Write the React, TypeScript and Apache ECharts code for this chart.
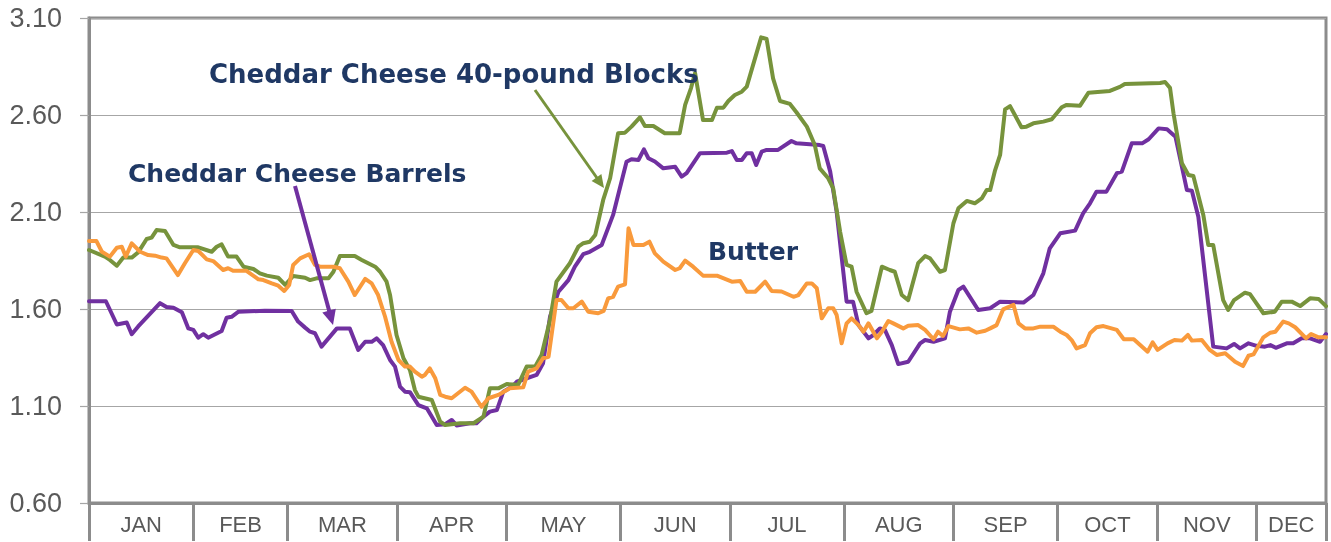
import React, { useEffect, useRef } from "react";
import * as echarts from "echarts";

// Month names and month boundaries on the trading-day axis
const MONTHS = ["JAN", "FEB", "MAR", "APR", "MAY", "JUN", "JUL", "AUG", "SEP", "OCT", "NOV", "DEC"];
const MONTH_BOUNDS = [0, 21, 40, 62, 84, 107, 129, 152, 174, 195, 215, 235, 249];
const Y_TICKS = [0.6, 1.1, 1.6, 2.1, 2.6, 3.1];

// [trading day, $/lb]
const barrels: [number, number][] = [
  [0, 1.64], [3.4, 1.64], [5.6, 1.52], [7.6, 1.53], [8.6, 1.47], [9.9, 1.51], [14.3, 1.63], [15.6, 1.61],
  [17.0, 1.607], [18.7, 1.583], [20.0, 1.5], [21.0, 1.492], [22.0, 1.452], [23.0, 1.47], [24.0, 1.452],
  [26.7, 1.487], [27.7, 1.555], [28.7, 1.56], [30.1, 1.586], [35.4, 1.591], [40.8, 1.59], [42.1, 1.535],
  [43.5, 1.504], [44.5, 1.483], [45.5, 1.475], [46.8, 1.406], [49.9, 1.5], [52.5, 1.5], [54.2, 1.389],
  [55.6, 1.431], [56.9, 1.431], [57.9, 1.449], [59.2, 1.414], [60.6, 1.337], [61.6, 1.303], [62.6, 1.2],
  [63.6, 1.174], [64.6, 1.171], [66.3, 1.105], [68.0, 1.088], [70.0, 1.002], [71.7, 1.006], [73.0, 1.028],
  [74.0, 1.0], [76.7, 1.011], [78.0, 1.011], [79.4, 1.045], [80.7, 1.071], [82.1, 1.079], [83.4, 1.174],
  [85.2, 1.2], [86.1, 1.225], [88.1, 1.243], [90.1, 1.26], [91.4, 1.32], [92.8, 1.56], [94.5, 1.689],
  [96.5, 1.749], [97.8, 1.818], [99.5, 1.883], [100.8, 1.895], [103.2, 1.93], [105.5, 2.085], [108.2, 2.359],
  [109.2, 2.372], [110.6, 2.368], [111.7, 2.423], [112.6, 2.377], [113.9, 2.36], [115.6, 2.325], [118.0, 2.333],
  [119.3, 2.282], [120.3, 2.3], [123.0, 2.403], [128.4, 2.406], [129.4, 2.414], [130.4, 2.368], [131.4, 2.368],
  [132.4, 2.403], [133.4, 2.403], [134.3, 2.342], [135.4, 2.411], [136.4, 2.42], [138.7, 2.42], [141.4, 2.466],
  [142.4, 2.454], [147.1, 2.445], [147.8, 2.44], [149.2, 2.308], [150.5, 2.1], [152.5, 1.638], [153.8, 1.638],
  [154.9, 1.517], [156.9, 1.449], [157.9, 1.466], [159.2, 1.5], [160.2, 1.492], [161.6, 1.414], [162.9, 1.316],
  [164.9, 1.328], [167.3, 1.423], [168.3, 1.44], [170.0, 1.431], [172.3, 1.449], [173.3, 1.586], [175.0, 1.698],
  [176.0, 1.715], [179.0, 1.595], [181.4, 1.604], [183.4, 1.638], [188.1, 1.633], [190.1, 1.672], [192.1, 1.784],
  [193.4, 1.913], [195.5, 1.99], [198.5, 2.004], [200.1, 2.093], [201.5, 2.145], [202.8, 2.205], [204.8, 2.205],
  [206.9, 2.3], [207.9, 2.308], [209.9, 2.454], [212.0, 2.454], [213.3, 2.475], [215.3, 2.531], [217.0, 2.526],
  [218.7, 2.488], [220.0, 2.333], [221.0, 2.213], [222.0, 2.21], [223.3, 2.076], [224.6, 1.784], [226.3, 1.406],
  [229.0, 1.397], [230.5, 1.42], [231.7, 1.397], [233.4, 1.423], [235.0, 1.41], [236.7, 1.406], [237.8, 1.414],
  [238.9, 1.4], [241.1, 1.423], [242.4, 1.423], [244.1, 1.449], [245.8, 1.449], [247.8, 1.431], [249.0, 1.471],
];

const blocks: [number, number][] = [
  [0, 1.904], [3.2, 1.87], [4.2, 1.853], [5.6, 1.823], [6.9, 1.865], [8.6, 1.865], [9.9, 1.892], [11.6, 1.961],
  [12.6, 1.968], [13.6, 2.007], [15.3, 2.002], [17.0, 1.93], [18.3, 1.918], [22.0, 1.918], [24.7, 1.895],
  [25.7, 1.921], [26.7, 1.933], [28.0, 1.87], [29.7, 1.87], [31.1, 1.818], [33.1, 1.806], [34.4, 1.784],
  [35.8, 1.772], [38.1, 1.761], [39.5, 1.724], [41.1, 1.77], [43.5, 1.761], [44.5, 1.749], [45.8, 1.758],
  [48.2, 1.758], [49.2, 1.792], [50.5, 1.873], [53.5, 1.873], [54.9, 1.853], [56.2, 1.836], [57.6, 1.818],
  [58.6, 1.792], [59.9, 1.741], [60.6, 1.672], [61.9, 1.466], [63.3, 1.346], [64.6, 1.286], [65.6, 1.182],
  [66.3, 1.148], [69.0, 1.131], [70.7, 1.019], [71.7, 1.002], [74.7, 1.011], [77.4, 1.011], [79.4, 1.045],
  [80.7, 1.191], [82.4, 1.191], [84.1, 1.213], [86.4, 1.21], [88.1, 1.303], [89.8, 1.303], [91.1, 1.363],
  [92.8, 1.543], [94.1, 1.741], [96.8, 1.836], [98.5, 1.921], [99.5, 1.939], [100.8, 1.947], [101.9, 1.981],
  [103.5, 2.162], [104.9, 2.274], [106.5, 2.506], [107.9, 2.509], [109.2, 2.54], [110.9, 2.588], [111.9, 2.543],
  [113.6, 2.543], [115.9, 2.506], [118.9, 2.506], [120.0, 2.652], [121.2, 2.74], [122.0, 2.816], [123.6, 2.574],
  [125.4, 2.574], [126.4, 2.638], [127.7, 2.638], [128.7, 2.672], [130.0, 2.703], [131.4, 2.72], [132.4, 2.746],
  [135.3, 3.0], [136.4, 2.992], [137.7, 2.789], [139.1, 2.672], [141.1, 2.657], [142.4, 2.614], [144.5, 2.54],
  [146.1, 2.445], [147.1, 2.325], [148.8, 2.274], [149.8, 2.222], [151.2, 1.998], [152.5, 1.827], [153.5, 1.818],
  [154.5, 1.689], [156.5, 1.578], [157.5, 1.59], [159.6, 1.818], [161.2, 1.801], [162.2, 1.792], [163.6, 1.672],
  [164.9, 1.646], [166.9, 1.836], [168.3, 1.873], [169.3, 1.861], [171.3, 1.792], [172.3, 1.801], [174.0, 2.042],
  [175.0, 2.119], [176.7, 2.157], [178.3, 2.145], [179.7, 2.17], [180.7, 2.213], [181.4, 2.213], [182.4, 2.316],
  [183.4, 2.394], [184.4, 2.629], [185.4, 2.646], [187.7, 2.537], [188.7, 2.54], [190.1, 2.557], [192.1, 2.566],
  [193.8, 2.578], [195.8, 2.64], [196.8, 2.652], [199.5, 2.648], [201.2, 2.715], [205.5, 2.724], [207.5, 2.745],
  [208.5, 2.76], [215.6, 2.765], [216.6, 2.77], [217.6, 2.74], [218.3, 2.609], [220.0, 2.351], [221.3, 2.291],
  [222.3, 2.286], [224.3, 2.085], [225.3, 1.93], [226.3, 1.93], [228.3, 1.646], [229.3, 1.595], [230.5, 1.646],
  [232.7, 1.684], [233.7, 1.677], [235.0, 1.629], [236.4, 1.578], [238.7, 1.586], [240.1, 1.638], [242.1, 1.638],
  [243.8, 1.615], [245.8, 1.655], [247.5, 1.652], [249.0, 1.615],
];

const butter: [number, number][] = [
  [0, 1.95], [1.5, 1.95], [2.6, 1.895], [4.2, 1.87], [5.6, 1.916], [6.6, 1.921], [7.4, 1.87], [8.6, 1.938],
  [10.3, 1.895], [11.9, 1.878], [13.3, 1.875], [14.6, 1.865], [15.6, 1.861], [17.9, 1.775], [19.3, 1.836],
  [21.0, 1.904], [22.0, 1.899], [23.7, 1.856], [25.0, 1.847], [27.0, 1.801], [28.0, 1.81], [29.0, 1.797],
  [31.7, 1.797], [34.1, 1.753], [35.1, 1.749], [36.8, 1.732], [38.1, 1.72], [39.3, 1.693], [40.3, 1.724],
  [41.1, 1.827], [42.5, 1.861], [44.3, 1.882], [45.5, 1.827], [46.5, 1.818], [49.2, 1.818], [50.5, 1.81],
  [52.2, 1.741], [53.5, 1.672], [55.6, 1.755], [56.9, 1.732], [58.2, 1.672], [59.6, 1.56], [60.9, 1.431],
  [62.3, 1.337], [63.6, 1.303], [64.6, 1.303], [65.6, 1.277], [67.0, 1.251], [67.6, 1.26], [68.6, 1.294],
  [69.7, 1.243], [70.7, 1.157], [71.7, 1.148], [73.0, 1.14], [75.7, 1.194], [77.0, 1.174], [79.0, 1.096],
  [80.4, 1.14], [82.4, 1.157], [84.7, 1.191], [87.4, 1.196], [88.4, 1.277], [90.1, 1.294], [91.4, 1.346],
  [92.5, 1.354], [94.1, 1.646], [95.1, 1.646], [96.5, 1.604], [97.5, 1.604], [99.2, 1.638], [100.5, 1.586],
  [102.5, 1.578], [103.6, 1.59], [104.5, 1.655], [105.5, 1.663], [106.5, 1.715], [107.9, 1.727], [108.6, 2.016],
  [109.6, 1.93], [111.6, 1.93], [112.8, 1.947], [113.9, 1.887], [115.6, 1.844], [118.0, 1.801], [118.9, 1.81],
  [120.0, 1.849], [121.6, 1.818], [123.6, 1.772], [126.4, 1.772], [129.4, 1.741], [131.1, 1.744], [132.4, 1.689],
  [134.1, 1.689], [136.1, 1.741], [137.4, 1.693], [139.4, 1.69], [141.8, 1.663], [142.8, 1.672], [144.5, 1.732],
  [145.5, 1.732], [146.5, 1.707], [147.5, 1.552], [148.8, 1.604], [149.8, 1.604], [150.5, 1.569], [151.5, 1.423],
  [152.5, 1.526], [153.5, 1.552], [154.9, 1.517], [155.9, 1.483], [156.9, 1.526], [158.6, 1.449], [159.6, 1.483],
  [160.9, 1.538], [161.9, 1.526], [163.9, 1.5], [164.9, 1.514], [166.9, 1.517], [168.3, 1.492], [170.0, 1.444],
  [170.9, 1.483], [171.9, 1.461], [173.0, 1.512], [175.3, 1.495], [177.0, 1.5], [178.7, 1.478], [180.4, 1.488],
  [181.4, 1.5], [182.7, 1.517], [184.0, 1.598], [186.1, 1.621], [187.1, 1.526], [188.4, 1.5], [190.1, 1.5],
  [191.5, 1.509], [194.1, 1.509], [195.5, 1.483], [196.8, 1.466], [197.8, 1.44], [198.8, 1.397], [200.5, 1.414],
  [201.5, 1.475], [202.8, 1.506], [204.2, 1.512], [206.9, 1.492], [208.3, 1.444], [210.3, 1.444], [213.1, 1.38],
  [214.1, 1.428], [215.1, 1.389], [217.1, 1.423], [218.5, 1.44], [220.0, 1.437], [221.2, 1.466], [222.0, 1.437],
  [224.0, 1.44], [225.6, 1.389], [227.0, 1.363], [228.7, 1.372], [230.7, 1.328], [232.3, 1.306], [233.4, 1.359],
  [234.4, 1.366], [236.4, 1.454], [237.8, 1.478], [238.8, 1.483], [240.4, 1.535], [241.5, 1.526], [242.8, 1.506],
  [245.0, 1.449], [246.0, 1.471], [247.5, 1.454], [249.0, 1.454],
];

const AXIS_GRAY = "#8c8c8c";
const GRID_GRAY = "#a6a6a6";
const LABEL_GRAY = "#595959";
const NAVY = "#1f3864";
const PURPLE = "#7030a0";
const GREEN = "#77933c";
const ORANGE = "#f99a3c";

export default function App() {
  const ref = useRef<HTMLDivElement>(null);

  useEffect(() => {
    if (!ref.current) return;
    const chart = echarts.init(ref.current, null, { renderer: "svg" });
    const mids = MONTHS.map((_, i) => (MONTH_BOUNDS[i] + MONTH_BOUNDS[i + 1]) / 2);
    const monthFor = (v: number) => {
      let best = 0;
      for (let i = 1; i < mids.length; i++) {
        if (Math.abs(mids[i] - v) < Math.abs(mids[best] - v)) best = i;
      }
      return MONTHS[best];
    };
    const lineSeries = (name: string, data: [number, number][], color: string, width: number) => ({
      type: "line",
      name,
      data,
      symbol: "none",
      smooth: false,
      lineStyle: { color, width, join: "round", cap: "round" },
      itemStyle: { color },
    });

    chart.setOption({
      animation: false,
      grid: {
        left: 89,
        right: 5,
        top: 18,
        bottom: 39,
        show: true,
        borderColor: AXIS_GRAY,
        borderWidth: 3,
        backgroundColor: "transparent",
      },
      xAxis: {
        type: "value",
        min: 0,
        max: 249,
        axisLine: { show: true, lineStyle: { color: AXIS_GRAY, width: 3 } },
        axisTick: {
          show: true,
          customValues: MONTH_BOUNDS,
          length: 38,
          lineStyle: { color: AXIS_GRAY, width: 3 },
        },
        axisLabel: {
          customValues: mids,
          formatter: (v: number) => monthFor(v),
          color: LABEL_GRAY,
          fontSize: 22,
          fontFamily: "Liberation Sans",
          margin: 10,
        },
        splitLine: { show: false },
      },
      yAxis: {
        type: "value",
        min: 0.6,
        max: 3.1,
        axisLine: { show: true, lineStyle: { color: AXIS_GRAY, width: 3 } },
        axisTick: {
          show: true,
          customValues: Y_TICKS,
          length: 9,
          lineStyle: { color: GRID_GRAY, width: 1.2 },
        },
        axisLabel: {
          customValues: Y_TICKS,
          formatter: (v: number) => v.toFixed(2),
          color: LABEL_GRAY,
          fontSize: 27,
          fontFamily: "Liberation Sans",
          margin: 27,
        },
        splitLine: { show: true, lineStyle: { color: GRID_GRAY, width: 1.2 } },
      },
      series: [
        lineSeries("Cheddar Cheese Barrels", barrels, PURPLE, 4),
        lineSeries("Cheddar Cheese 40-pound Blocks", blocks, GREEN, 4),
        lineSeries("Butter", butter, ORANGE, 4),
      ],
      graphic: [
        {
          type: "text",
          x: 209,
          y: 74,
          z: 100,
          style: {
            text: "Cheddar Cheese 40-pound Blocks",
            font: 'bold 26px "DejaVu Sans"',
            fill: NAVY,
            align: "left",
            verticalAlign: "middle",
          },
        },
        {
          type: "text",
          x: 128,
          y: 173,
          z: 100,
          style: {
            text: "Cheddar Cheese Barrels",
            font: 'bold 25px "DejaVu Sans"',
            fill: NAVY,
            align: "left",
            verticalAlign: "middle",
          },
        },
        {
          type: "text",
          x: 708,
          y: 251,
          z: 100,
          style: {
            text: "Butter",
            font: 'bold 25px "DejaVu Sans"',
            fill: NAVY,
            align: "left",
            verticalAlign: "middle",
          },
        },
        {
          type: "line",
          z: 100,
          shape: { x1: 535, y1: 90, x2: 597, y2: 178 },
          style: { stroke: GREEN, lineWidth: 3 },
        },
        {
          type: "polygon",
          z: 100,
          shape: { points: [[604, 188], [591.6, 180.9], [601.4, 174.0]] },
          style: { fill: GREEN },
        },
        {
          type: "line",
          z: 100,
          shape: { x1: 295, y1: 186, x2: 329.5, y2: 312 },
          style: { stroke: PURPLE, lineWidth: 4 },
        },
        {
          type: "polygon",
          z: 100,
          shape: { points: [[333, 325], [322.3, 312.4], [335.8, 308.7]] },
          style: { fill: PURPLE },
        },
      ],
    });
    return () => chart.dispose();
  }, []);

  return (
    <div
      ref={ref}
      style={{ position: "fixed", left: 0, top: 0, width: 1331, height: 542 }}
    />
  );
}
